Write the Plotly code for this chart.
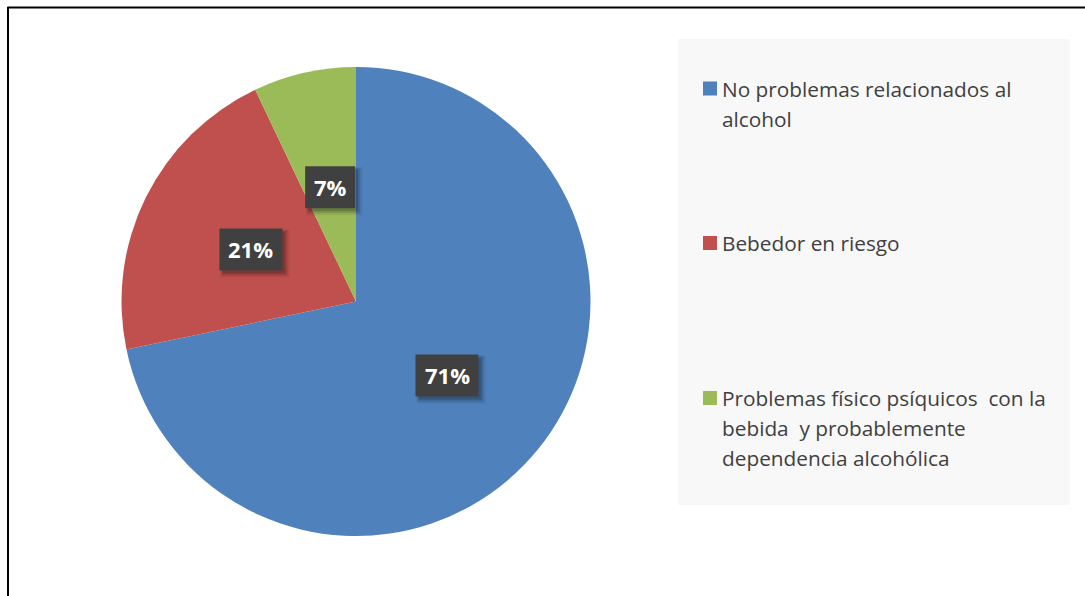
import math
import plotly.graph_objects as go

# Survey results: alcohol-use screening categories (percent of respondents)
labels = [
    "No problemas relacionados al alcohol",
    "Bebedor en riesgo",
    "Problemas físico psíquicos  con la bebida  y probablemente dependencia alcohólica",
]
legend_lines = [
    ["No problemas relacionados al", "alcohol"],
    ["Bebedor en riesgo"],
    ["Problemas físico psíquicos  con la", "bebida  y probablemente", "dependencia alcohólica"],
]
values = [71, 21, 7]
colors = ["#4f81bd", "#c0504d", "#9bbb59"]

W, H = 1085, 596
CX, CY, R = 356, 301.5, 234.5          # pie centre / radius in pixels
TEXT_COLOR = "#404040"


def px(x):
    return x / W


def py(y):
    return 1 - y / H


fig = go.Figure(
    go.Pie(
        labels=labels,
        values=values,
        sort=False,
        direction="clockwise",
        rotation=0,
        marker=dict(colors=colors, line=dict(width=0)),
        textinfo="none",
        hoverinfo="label+percent",
        showlegend=False,
        domain=dict(x=[px(CX - R), px(CX + R)], y=[py(CY + R), py(CY - R)]),
    )
)

shapes = []
annotations = []

# Frame lines (top and left edges)
shapes.append(dict(type="line", xref="paper", yref="paper",
                   x0=px(7.5), x1=px(W), y0=py(7.5), y1=py(7.5),
                   line=dict(color="#000000", width=2)))
shapes.append(dict(type="line", xref="paper", yref="paper",
                   x0=px(8), x1=px(8), y0=py(7), y1=py(H),
                   line=dict(color="#000000", width=2)))

# Legend panel
shapes.append(dict(type="rect", xref="paper", yref="paper", layer="below",
                   x0=px(678), x1=px(1070), y0=py(505), y1=py(39),
                   fillcolor="#f8f8f8", line=dict(width=0)))

# Data labels: dark boxes at half radius along each slice's mid-angle
total = sum(values)
start = 0.0
box_h = 42
for v in values:
    frac = v / total
    mid = (start + frac / 2) * 2 * math.pi
    start += frac
    lx = CX + 0.5 * R * math.sin(mid)
    ly = CY - 0.5 * R * math.cos(mid)
    text = f"{v}%"
    bw = 50 if len(text) == 2 else 63
    # soft drop shadow
    for off, grow, alpha in ((4, 3, 0.07), (3.5, 1.5, 0.12), (3, 0, 0.18)):
        shapes.append(dict(
            type="rect", xref="paper", yref="paper",
            x0=px(lx - bw / 2 + off - grow), x1=px(lx + bw / 2 + off + grow),
            y0=py(ly + box_h / 2 + off + grow), y1=py(ly - box_h / 2 + off - grow),
            fillcolor=f"rgba(0,0,0,{alpha})", line=dict(width=0),
        ))
    shapes.append(dict(
        type="rect", xref="paper", yref="paper",
        x0=px(lx - bw / 2), x1=px(lx + bw / 2),
        y0=py(ly + box_h / 2), y1=py(ly - box_h / 2),
        fillcolor="#404040", line=dict(width=0),
    ))
    annotations.append(dict(
        x=px(lx), y=py(ly), xref="paper", yref="paper",
        text=f"<b>{text}</b>", showarrow=False,
        font=dict(family="Open Sans", size=22, color="#ffffff"),
        xanchor="center", yanchor="middle",
    ))

# Legend entries: colour square + wrapped label lines
first_line_y = [88.5, 243, 398]
line_gap = 30
for lines, color, y0 in zip(legend_lines, colors, first_line_y):
    shapes.append(dict(type="rect", xref="paper", yref="paper",
                       x0=px(703), x1=px(717), y0=py(y0 + 7), y1=py(y0 - 7),
                       fillcolor=color, line=dict(width=0)))
    for i, line in enumerate(lines):
        annotations.append(dict(
            x=px(720), y=py(y0 + i * line_gap), xref="paper", yref="paper",
            text=line, showarrow=False, xanchor="left", yanchor="middle",
            font=dict(family="Open Sans", size=20.8, color=TEXT_COLOR),
        ))

fig.update_layout(
    width=W, height=H,
    margin=dict(l=0, r=0, t=0, b=0),
    paper_bgcolor="#ffffff",
    plot_bgcolor="#ffffff",
    shapes=shapes,
    annotations=annotations,
)

fig.write_html("out.html")
